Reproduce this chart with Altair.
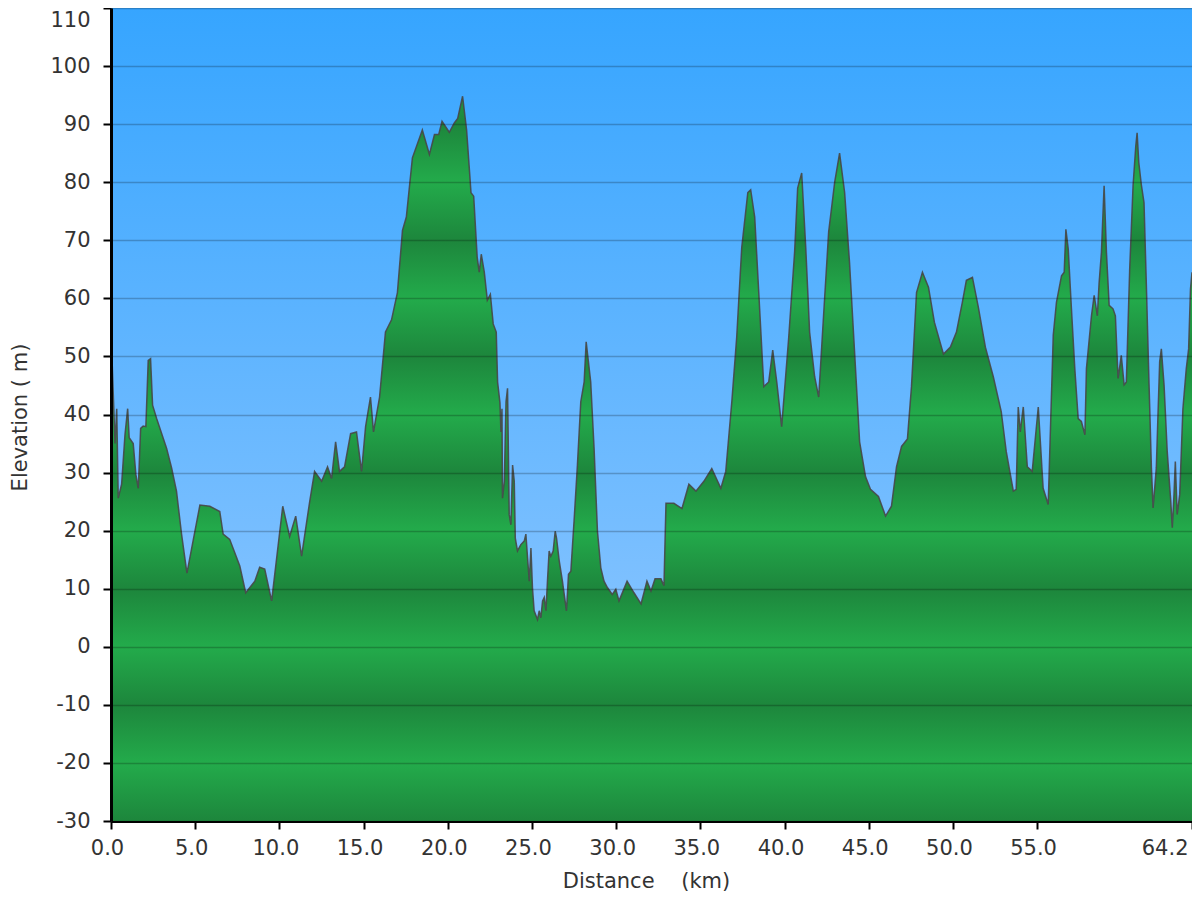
import altair as alt
import pandas as pd

distance_km = [
    0.00, 0.24, 0.34, 0.43, 0.63, 0.83, 0.99, 1.08, 1.32, 1.48, 1.62, 1.76, 1.91, 2.07, 2.21, 2.35, 2.47, 2.71,
    3.30, 3.60, 3.89, 4.19, 4.51, 5.28, 5.87, 6.46, 6.66, 7.05, 7.65, 8.00, 8.54, 8.83, 9.13, 9.54,
    10.20, 10.61, 10.97, 11.32, 11.80, 12.09, 12.51, 12.86, 13.10, 13.34, 13.57, 13.87, 14.23, 14.58, 14.88,
    15.12, 15.41, 15.59, 15.95, 16.30, 16.66, 17.01, 17.31, 17.54, 17.90, 18.49, 18.91, 19.21, 19.46, 19.66,
    20.09, 20.39, 20.59, 20.88, 21.12, 21.38, 21.54, 21.75, 21.87, 21.99, 22.17, 22.35, 22.53, 22.70, 22.88,
    22.96, 23.10, 23.16, 23.22, 23.25, 23.36, 23.46, 23.55, 23.65, 23.75, 23.85, 23.95, 24.01, 24.14, 24.34,
    24.54, 24.64, 24.74, 24.84, 24.94, 25.03, 25.13, 25.33, 25.43, 25.53, 25.63, 25.73, 25.83, 25.92, 26.02,
    26.12, 26.26, 26.38, 26.46, 26.62, 26.81, 27.05, 27.17, 27.31, 27.50, 27.70, 27.90, 28.10, 28.22, 28.49,
    28.69, 28.89, 29.09, 29.28, 29.48, 29.77, 29.98, 30.17, 30.65, 31.06, 31.48, 31.83, 32.07, 32.31, 32.66,
    32.84, 32.96, 33.43, 33.91, 34.32, 34.74, 35.21, 35.68, 36.22, 36.51, 36.87, 37.16, 37.46, 37.82, 37.99,
    38.23, 38.47, 38.77, 39.06, 39.30, 39.54, 39.83, 40.25, 40.60, 40.78, 41.02, 41.26, 41.49, 41.79, 42.03,
    42.26, 42.62, 42.98, 43.27, 43.57, 43.86, 44.16, 44.46, 44.81, 45.11, 45.58, 46.00, 46.35, 46.65, 46.95,
    47.30, 47.54, 47.84, 48.19, 48.55, 48.90, 49.44, 49.85, 50.21, 50.56, 50.80, 51.16, 51.51, 51.93, 52.40,
    52.87, 53.17, 53.59, 53.76, 53.88, 54.00, 54.18, 54.42, 54.71, 55.07, 55.36, 55.66, 55.96, 56.15, 56.45,
    56.61, 56.71, 56.85, 57.04, 57.24, 57.44, 57.63, 57.84, 57.93, 58.23, 58.39, 58.58, 58.68, 58.82, 58.98,
    59.12, 59.28, 59.51, 59.65, 59.81, 60.00, 60.17, 60.30, 60.50, 60.70, 60.86, 60.94, 61.04, 61.19, 61.35,
    61.49, 61.65, 61.79, 61.89, 62.08, 62.28, 62.38, 62.54, 62.73, 62.94, 63.03, 63.13, 63.21, 63.32, 63.47,
    63.66, 63.86, 64.00, 64.11, 64.20,
]
elevation_m = [
    54.5, 35.0, 41.0, 25.6, 28.0, 36.5, 41.0, 36.0, 35.0, 29.6, 27.3, 37.6, 38.0, 37.9, 49.3, 49.6, 41.6, 39.3,
    34.2, 30.8, 26.8, 19.4, 12.7, 24.4, 24.2, 23.3, 19.4, 18.5, 13.9, 9.3, 11.3, 13.7, 13.4, 7.9,
    24.2, 19.0, 22.5, 15.6, 25.0, 30.2, 28.5, 31.0, 29.0, 35.3, 30.2, 31.0, 36.7, 37.0, 30.2,
    37.9, 43.0, 37.0, 43.0, 54.2, 56.3, 61.0, 71.7, 74.0, 84.2, 89.0, 84.8, 88.2, 88.2, 90.5,
    88.6, 90.2, 91.0, 94.8, 89.0, 78.2, 77.6, 67.0, 64.5, 67.6, 64.5, 59.7, 60.7, 55.6, 54.2,
    45.6, 42.0, 37.0, 41.0, 25.6, 28.5, 42.2, 44.5, 22.8, 21.0, 31.3, 28.5, 18.7, 16.5, 17.6,
    18.2, 19.4, 15.3, 11.3, 17.0, 10.2, 6.2, 4.7, 6.2, 5.0, 7.9, 8.5, 6.2, 11.3, 16.5,
    15.6, 16.5, 19.9, 18.7, 14.8, 11.3, 6.2, 12.5, 13.0, 21.6, 31.3, 42.2, 45.6, 52.5, 45.6,
    34.2, 19.9, 13.6, 11.3, 10.2, 9.0, 9.9, 7.9, 11.3, 9.3, 7.4, 11.3, 9.6, 11.7, 11.7,
    10.5, 24.7, 24.7, 23.8, 28.0, 26.8, 28.5, 30.7, 27.3, 30.2, 42.2, 53.3, 68.8, 78.2, 78.7,
    74.0, 61.0, 44.8, 45.6, 51.1, 45.6, 37.9, 53.3, 68.0, 79.0, 81.6, 68.8, 54.2, 46.5, 43.0,
    54.2, 71.4, 80.0, 85.0, 78.2, 66.2, 50.8, 35.3, 29.3, 27.1, 25.9, 22.5, 24.2, 31.0, 34.5,
    35.8, 44.8, 61.0, 64.5, 61.9, 55.9, 50.4, 51.6, 54.2, 59.3, 63.1, 63.6, 58.5, 51.6, 46.5,
    40.5, 33.6, 26.8, 27.1, 41.3, 37.0, 41.3, 31.0, 30.2, 41.3, 27.3, 24.5, 53.7, 59.3, 63.9,
    64.5, 71.9, 68.5, 58.2, 47.9, 39.3, 38.8, 36.5, 47.9, 57.0, 60.5, 57.0, 62.5, 67.9, 79.4,
    67.9, 58.8, 58.2, 57.0, 46.2, 50.2, 45.1, 45.6, 65.1, 79.4, 86.2, 88.5, 83.4, 79.6, 76.5,
    62.2, 45.1, 30.8, 23.9, 30.8, 49.1, 51.3, 45.1, 33.6, 25.0, 20.5, 26.2, 31.9, 22.8, 26.2,
    41.0, 47.9, 51.3, 61.6, 64.5,
]

x_ticks = [0, 5, 10, 15, 20, 25, 30, 35, 40, 45, 50, 55, 64.2]
y_ticks = list(range(-30, 111, 10))
Y_MIN, Y_MAX = -30, 110
X_MAX = 64.2

df = pd.DataFrame({"dist": distance_km, "elev": elevation_m})

# banded green gradient: light at even tens, dark at odd tens
LIGHT = (0x23, 0xAB, 0x4B)
DARK = (0x1D, 0x86, 0x3C)


def hexc(c):
    return "#%02x%02x%02x" % tuple(int(round(v)) for v in c)


def mix(a, b, t):
    return tuple(a[i] + (b[i] - a[i]) * t for i in range(3))


M = max(elevation_m)
span = M - Y_MIN
stops = []
top_t = (M - 90) / 10.0
stops.append(alt.GradientStop(color=hexc(mix(DARK, LIGHT, top_t)), offset=0))
for v in range(90, Y_MIN - 1, -10):
    col = DARK if (v // 10) % 2 != 0 else LIGHT
    stops.append(alt.GradientStop(color=hexc(col), offset=(M - v) / span))

green = alt.LinearGradient(gradient="linear", stops=stops, x1=0, x2=0, y1=0, y2=1)
sky = alt.LinearGradient(
    gradient="linear",
    stops=[alt.GradientStop(color="#36a5ff", offset=0), alt.GradientStop(color="#9acbff", offset=1)],
    x1=0, x2=0, y1=0, y2=1,
)

xscale = alt.Scale(domain=[0, X_MAX], nice=False, zero=False)
yscale = alt.Scale(domain=[Y_MIN, Y_MAX], nice=False, zero=False)

bg = alt.Chart(pd.DataFrame({"a": [0]})).mark_rect(fill=sky).encode(
    x=alt.datum(0, scale=xscale),
    x2=alt.datum(X_MAX),
    y=alt.datum(Y_MAX, scale=yscale),
    y2=alt.datum(Y_MIN),
)

xaxis = alt.Axis(
    values=x_ticks, format=".1f", grid=False,
    title="Distance\u00a0\u00a0\u00a0\u00a0(km)",
    titleX=535, titleY=66, titleBaseline="alphabetic", titleAlign="center",
    labelOffset=-4,
    labelAlign={"condition": {"test": "datum.value == 64.2", "value": "right"}, "value": "center"},
)
yaxis = alt.Axis(
    values=y_ticks, grid=True, zindex=1,
    labelExpr="datum.value < 0 ? '-' + abs(datum.value) : '' + datum.value",
    title="Elevation ( m)",
    titleX=-85, titleY=409, titleBaseline="alphabetic", titleAlign="center", titleAngle=270,
    labelPadding=13,
    labelBaseline={"condition": {"test": "datum.value == 110", "value": "top"}, "value": "middle"},
    labelOffset={"condition": {"test": "datum.value == 110", "value": 1}, "value": 0},
)

area = alt.Chart(df).mark_area(fill=green, interpolate="linear").encode(
    x=alt.X("dist:Q", scale=xscale, axis=xaxis),
    y=alt.Y("elev:Q", scale=yscale, axis=yaxis),
    y2=alt.datum(Y_MIN),
)

line = alt.Chart(df).mark_line(color="#474747", strokeWidth=1.5, opacity=0.9).encode(
    x=alt.X("dist:Q", scale=xscale),
    y=alt.Y("elev:Q", scale=yscale),
)

chart = (
    alt.layer(bg, area, line)
    .properties(
        width=1081, height=813,
        autosize=alt.AutoSizeParams(type="none"),
        padding={"left": 103, "top": 0, "right": 0, "bottom": 70},
    )
    .configure(font="DejaVu Sans", background="white")
    .configure_view(stroke=None)
    .configure_axis(
        labelFont="DejaVu Sans", labelFontSize=21, labelColor="#333333",
        titleFont="DejaVu Sans", titleFontSize=21, titleColor="#333333", titleFontWeight="normal",
        domainColor="#000000", domainWidth=3, tickColor="#000000", tickWidth=2, tickSize=8,
        gridColor="#000000", gridOpacity=0.22, gridWidth=1.5, labelPadding=8,
    )
)

chart.save("out.html", embed_options={"renderer": "svg", "actions": False})
